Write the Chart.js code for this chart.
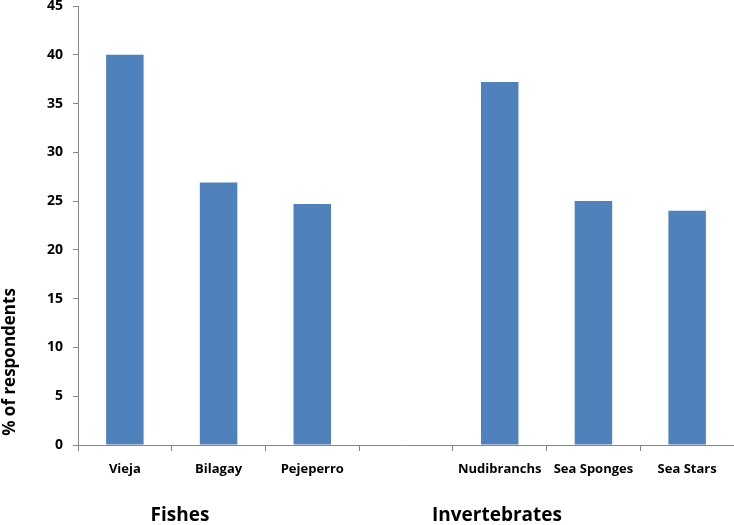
<!DOCTYPE html>
<html>
<head>
<meta charset="utf-8">
<script src="https://cdn.jsdelivr.net/npm/chart.js@4.4.0/dist/chart.umd.min.js"></script>
<style>
  html, body { margin: 0; padding: 0; background: #fff; }
  #box { width: 734px; height: 525px; }
</style>
</head>
<body>
<div id="box"><canvas id="grafico"></canvas></div>
<script>
// categorias e valores
var especies = ["Vieja", "Bilagay", "Pejeperro", "", "Nudibranchs", "Sea Sponges", "Sea Stars"];
var respondentes = [40, 26.9, 24.7, null, 37.2, 25.0, 24.0];
var grupos = ["Fishes", "Invertebrates"];
var tituloY = "% of respondents";

var fonte = "'Open Sans', 'Liberation Sans', sans-serif";

// textos extras: titulo do eixo y e nomes dos grupos
var textosExtras = {
  id: "textosExtras",
  afterDraw: function (chart) {
    var ctx = chart.ctx;
    ctx.save();
    ctx.fillStyle = "#000";
    ctx.textAlign = "center";
    ctx.textBaseline = "middle";

    ctx.font = "bold 19px " + fonte;
    ctx.fillText(grupos[0], 180, 516);
    ctx.fillText(grupos[1], 497, 516);

    ctx.translate(10, 362);
    ctx.rotate(-Math.PI / 2);
    ctx.font = "bold 17px " + fonte;
    ctx.fillText(tituloY, 0, 0);
    ctx.restore();
  },
};

var dados = {
  labels: especies,
  datasets: [
    {
      label: tituloY,
      data: respondentes,
      backgroundColor: "#4F81BD",
      borderWidth: 0,
      categoryPercentage: 1.0,
      barPercentage: 0.4,
    },
  ],
};

var config = {
  type: "bar",
  data: dados,
  options: {
    responsive: false,
    animation: false,
    maintainAspectRatio: false,
    layout: { padding: 0 },
    plugins: {
      legend: { display: false },
      tooltip: { enabled: false },
    },
    scales: {
      x: {
        grid: {
          drawOnChartArea: false,
          drawTicks: true,
          tickLength: 6,
          tickColor: "#868686",
          offset: true,
        },
        border: { color: "#868686", width: 1 },
        ticks: {
          color: "#000",
          font: { family: fonte, size: 13, weight: "bold" },
          padding: 10,
          maxRotation: 0,
          autoSkip: false,
        },
        afterFit: function (escala) {
          escala.height = 80;
        },
      },
      y: {
        min: 0,
        max: 45,
        grid: {
          drawOnChartArea: false,
          drawTicks: true,
          tickLength: 5,
          tickColor: "#868686",
        },
        border: { color: "#868686", width: 1 },
        ticks: {
          stepSize: 5,
          color: "#000",
          font: { family: fonte, size: 14, weight: "bold" },
          padding: 10,
        },
        afterFit: function (escala) {
          escala.width = 78;
          escala.paddingTop = 6;
          escala.paddingBottom = 0;
        },
      },
    },
  },
  plugins: [textosExtras],
};

var canvas = document.getElementById("grafico");
canvas.width = 734;
canvas.height = 525;
canvas.style.width = "734px";
canvas.style.height = "525px";
var meuGrafico = new Chart(canvas, config);
</script>
</body>
</html>
